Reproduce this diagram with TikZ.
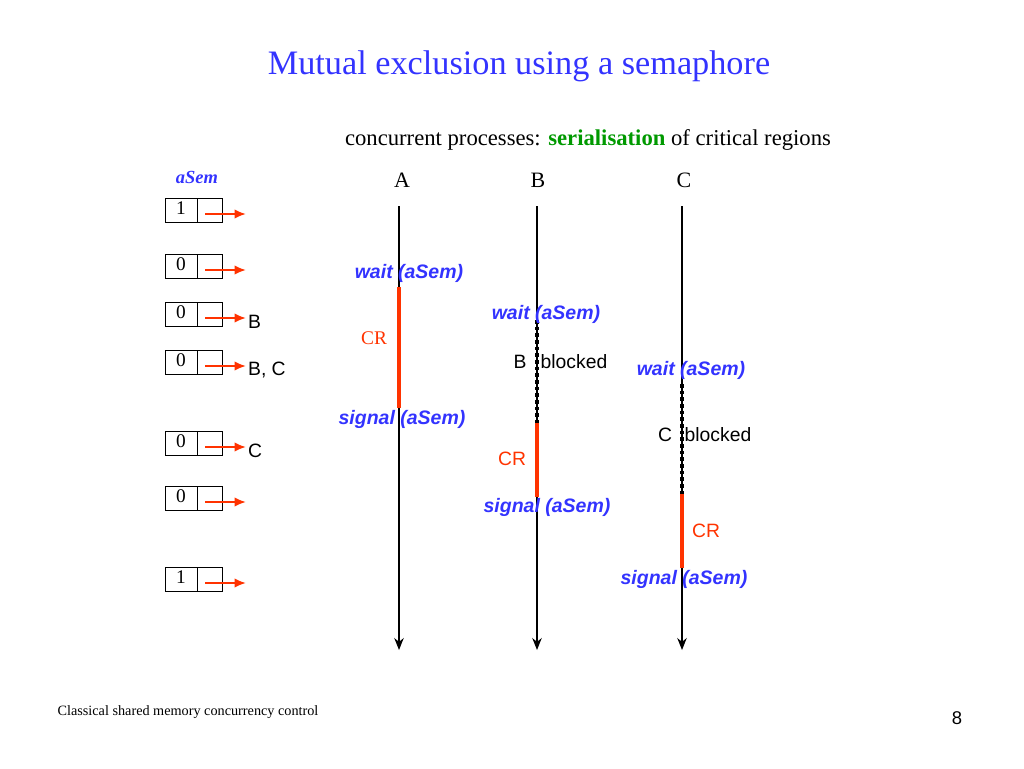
\documentclass[tikz,border=0pt]{standalone}
\usepackage{fontspec}
\setmainfont{Liberation Serif}
\setsansfont{Liberation Sans}
\usepackage{tikz}
\usetikzlibrary{arrows.meta}

\definecolor{slideblue}{RGB}{51,51,255}
\definecolor{crred}{RGB}{255,51,0}
\definecolor{sergreen}{RGB}{0,153,0}

\tikzset{
    op/.style={font=\sffamily\bfseries\itshape\fontsize{11.1}{13}\selectfont, text=slideblue, inner sep=1pt},
    plain/.style={font=\sffamily\fontsize{11}{13}\selectfont, inner sep=1pt},
    crlabel/.style={text=crred, inner sep=1pt, font=\fontsize{11}{13}\selectfont},
    cell/.style={draw, line width=0.5pt, minimum height=0.48cm, inner sep=0pt, font=\fontsize{11}{13}\selectfont},
    proc/.style={line width=0.7pt, -{Stealth[length=2.4mm, width=1.9mm]}},
    crit/.style={crred, line width=2.4pt},
    wait/.style={line width=2.4pt, dash pattern=on 2pt off 1.8pt},
    ptr/.style={crred, line width=1.1pt, -{Latex[length=2.3mm, width=1.9mm]}},
}

\begin{document}
\begin{tikzpicture}[x=0.02cm, y=-0.02cm]
    \useasboundingbox (0, 0) rectangle (1024, 768);

    \node[text=slideblue, font=\fontsize{19.5}{23}\selectfont] (title) at (519, 66) {Mutual exclusion using a semaphore};
    \node[font=\fontsize{12.9}{15}\selectfont] (sub) at (588, 140) {concurrent processes: \textcolor{sergreen}{\textbf{serialisation}} of critical regions};

    % semaphore states
    \node[text=slideblue, font=\bfseries\itshape\fontsize{10.5}{12}\selectfont] (asem) at (197, 177) {aSem};
    \foreach \y/\v/\t [count=\i] in {210/1/, 266/0/, 314/0/B, 362/0/{B, C}, 443/0/C, 498/0/, 579/1/} {
        \node[cell, minimum width=0.64cm] (val\i) at (181, \y) {\raisebox{2pt}{\v}};
        \node[cell, minimum width=0.5cm, anchor=west] (q\i) at ([xshift=-0.5pt]val\i.east) {};
        \coordinate (ps\i) at (205, \y+4);
        \coordinate (pe\i) at (246, \y+4);
        \draw[ptr] (ps\i) -- (pe\i);
        \node[plain, anchor=west] (who\i) at ([yshift=-2pt]pe\i) {\t};
    }

    % processes
    \node[font=\fontsize{12.5}{15}\selectfont] (pA) at (402, 180) {A};
    \node[font=\fontsize{12.5}{15}\selectfont] (pB) at (538, 180) {B};
    \node[font=\fontsize{12.5}{15}\selectfont] (pC) at (684, 180) {C};
    \coordinate (Atop) at (399, 206);
    \coordinate (Abot) at (399, 650);
    \coordinate (Btop) at (537, 206);
    \coordinate (Bbot) at (537, 650);
    \coordinate (Ctop) at (682, 206);
    \coordinate (Cbot) at (682, 650);
    \draw[proc] (Atop) -- (Abot);
    \draw[proc] (Btop) -- (Bbot);
    \draw[proc] (Ctop) -- (Cbot);

    % A
    \coordinate (Acs) at (399, 287);
    \coordinate (Ace) at (399, 408);
    \draw[crit] (Acs) -- (Ace);
    \node[op] (Await) at (409, 273) {wait (aSem)};
    \node[crlabel] (Acr) at (374, 338) {CR};
    \node[op] (Asig) at (402, 419) {signal (aSem)};

    % B
    \coordinate (Bws) at (537, 320);
    \coordinate (Bcs) at (537, 423);
    \coordinate (Bce) at (537, 497);
    \draw[wait] (Bws) -- (Bcs);
    \draw[crit] (Bcs) -- (Bce);
    \node[op] (Bwait) at (546, 314) {wait (aSem)};
    \node[plain] (Bname) at (520, 362) {B};
    \node[plain] (Bblk) at (574, 362) {blocked};
    \node[plain, text=crred] (Bcr) at (512, 459) {CR};
    \node[op] (Bsig) at (547, 507) {signal (aSem)};

    % C
    \coordinate (Cws) at (682, 384);
    \coordinate (Ccs) at (682, 494);
    \coordinate (Cce) at (682, 568);
    \draw[wait] (Cws) -- (Ccs);
    \draw[crit] (Ccs) -- (Cce);
    \node[op] (Cwait) at (691, 370) {wait (aSem)};
    \node[plain] (Cname) at (665, 435) {C};
    \node[plain] (Cblk) at (718, 435) {blocked};
    \node[plain, text=crred] (Ccr) at (706, 531) {CR};
    \node[op] (Csig) at (684, 579) {signal (aSem)};

    \node[font=\fontsize{8.1}{10}\selectfont] (foot) at (188, 712) {Classical shared memory concurrency control};
    \node[font=\sffamily\fontsize{10.5}{12}\selectfont] (page) at (957, 718) {8};
\end{tikzpicture}
\end{document}
